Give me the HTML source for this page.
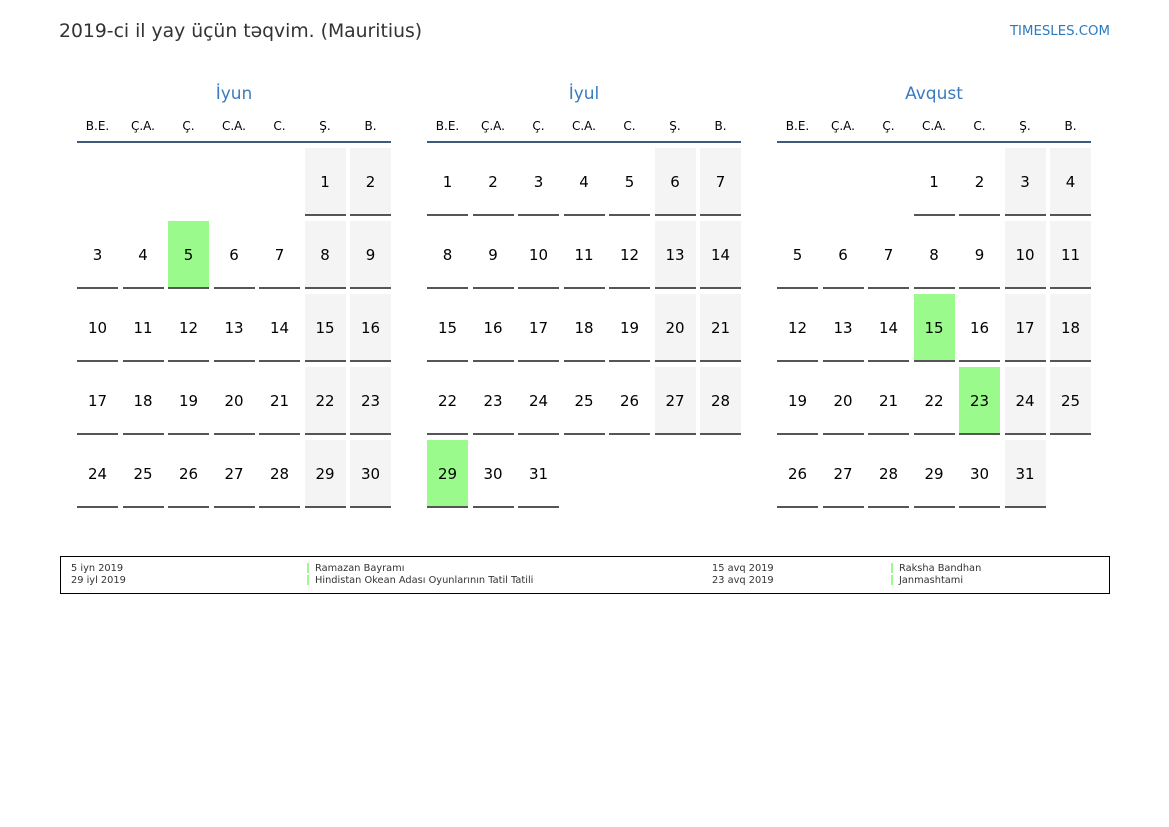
<!DOCTYPE html>
<html><head><meta charset="utf-8">
<style>
body{margin:0;width:1169px;height:827px;background:#fff;position:relative;overflow:hidden;font-family:"DejaVu Sans","Liberation Sans",sans-serif;}
.a{position:absolute;}
.title{left:59px;top:21px;font-size:18.8px;color:#333;}
.brand{right:59px;top:24px;font-size:13.3px;color:#2a7ac0;}
.mt{font-size:17px;color:#3a7bbf;text-align:center;width:314px;top:84px;}
.dh{font-size:12px;color:#000;text-align:center;width:41px;top:119px;}
.hl{height:2px;background:#3c5a80;width:314px;top:141px;}
.c{width:41px;height:66px;border-bottom:2px solid #555;text-align:center;line-height:68px;font-size:15px;color:#000;}
.we{background:#f4f4f4;}
.hol{background:#9bfa8c;}
.leg{left:60px;top:556px;width:1048px;height:36px;border:1px solid #000;}
.lt{font-size:9.8px;color:#333;}
.bar{width:2px;height:10px;background:#9bfa8c;}
</style></head><body>
<div class="a title">2019-ci il yay üçün təqvim. (Mauritius)</div>
<div class="a brand">TIMESLES.COM</div>
<div id="cal"></div>
<div class="a leg"></div>
<div class="a lt" style="left:71px;top:563px">5 iyn 2019</div>
<div class="a lt" style="left:71px;top:575px">29 iyl 2019</div>
<div class="a bar" style="left:307px;top:563px"></div>
<div class="a bar" style="left:307px;top:575px"></div>
<div class="a lt" style="left:315px;top:563px">Ramazan Bayramı</div>
<div class="a lt" style="left:315px;top:575px">Hindistan Okean Adası Oyunlarının Tatil Tatili</div>
<div class="a lt" style="left:712px;top:563px">15 avq 2019</div>
<div class="a lt" style="left:712px;top:575px">23 avq 2019</div>
<div class="a bar" style="left:891px;top:563px"></div>
<div class="a bar" style="left:891px;top:575px"></div>
<div class="a lt" style="left:899px;top:563px">Raksha Bandhan</div>
<div class="a lt" style="left:899px;top:575px">Janmashtami</div>
<script>
var months=[{n:"İyun",x:77,start:5,days:30,hol:[5]},{n:"İyul",x:427,start:0,days:31,hol:[29]},{n:"Avqust",x:777,start:3,days:31,hol:[15,23]}];
var dn=["B.E.","Ç.A.","Ç.","C.A.","C.","Ş.","B."];
var h="";
months.forEach(function(m){
h+='<div class="a mt" style="left:'+m.x+'px">'+m.n+'</div>';
h+='<div class="a hl" style="left:'+m.x+'px"></div>';
for(var i=0;i<7;i++){h+='<div class="a dh" style="left:'+(m.x+i*45.5)+'px">'+dn[i]+'</div>';}
for(var d=1;d<=m.days;d++){var p=m.start+d-1,col=p%7,row=Math.floor(p/7);
var cls="c";if(m.hol.indexOf(d)>=0)cls+=" hol";else if(col>=5)cls+=" we";
h+='<div class="a '+cls+'" style="left:'+(m.x+col*45.5)+'px;top:'+(148+row*73)+'px">'+d+'</div>';}
});
document.getElementById("cal").innerHTML=h;
</script>
</body></html>
